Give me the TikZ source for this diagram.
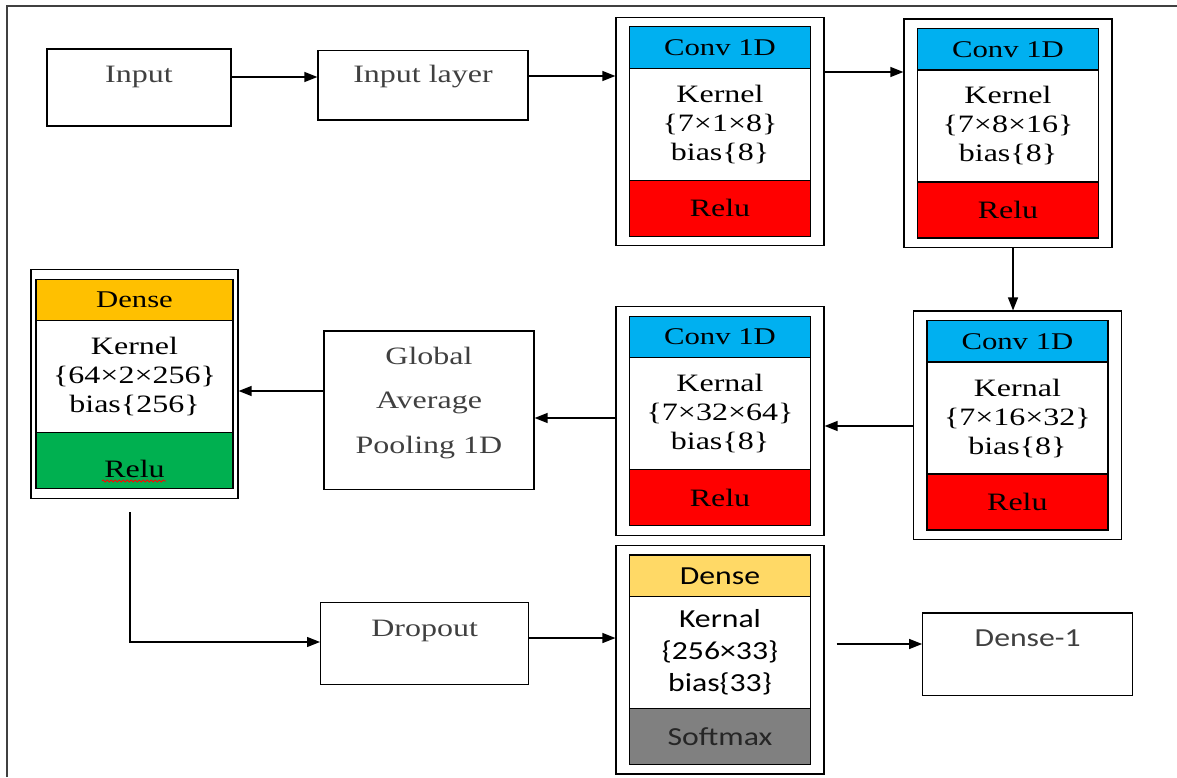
\documentclass[tikz,border=0pt]{standalone}
\usepackage{fontspec}
\setmainfont{Liberation Serif}[FakeStretch=1.28]
\newfontfamily\calibri{Carlito}[FakeStretch=1.22]
\usepackage{tikz}
\usetikzlibrary{arrows.meta,positioning,fit,decorations.pathmorphing}

\definecolor{convblue}{HTML}{00B0F0}
\definecolor{relured}{HTML}{FF0000}
\definecolor{denseorange}{HTML}{FFC000}
\definecolor{densegreen}{HTML}{00B050}
\definecolor{denseyellow}{HTML}{FFD966}
\definecolor{softgray}{HTML}{808080}
\definecolor{txtgray}{HTML}{404040}

\begin{document}
\begin{tikzpicture}[
  x=1pt, y=-1pt,
  line width=1.2pt,
  font=\fontsize{25}{29}\selectfont,
  plainbox/.style={draw, inner sep=0pt, text=txtgray},
  layerhead/.style={draw, outer sep=0pt, inner sep=0pt, minimum width=181pt, minimum height=41.5pt, font=\fontsize{24}{28}\selectfont},
  layerbody/.style={draw, outer sep=0pt, inner sep=0pt, minimum width=181pt, minimum height=112pt, align=center},
  layeract/.style={draw, outer sep=0pt, inner sep=0pt, minimum width=181pt, minimum height=56pt},
  layerframe/.style={draw, inner xsep=13.5pt, inner ysep=9.5pt},
  arr/.style={-{Triangle[length=13pt,width=10pt]}, line width=1.3pt}
]
  \useasboundingbox (0,0) rectangle (1177,777);
  \draw[line width=1.3pt, txtgray] (7,777) -- (7,6) -- (1177,6);

  % input row
  \node[plainbox, minimum width=184pt, text height=33pt, text depth=44pt] (in) at (139,87.5) {Input};
  \node[plainbox, minimum width=210pt, text height=31.6pt, text depth=37.7pt] (inl) at (423,85.3) {Input layer};

  % conv blocks, top row
  \node[layerhead, fill=convblue] (c1h) at (720,47.5) {Conv 1D};
  \node[layerbody, below=0pt of c1h] (c1b) {Kernel\\\{7×1×8\}\\bias\{8\}};
  \node[layeract, fill=relured, below=0pt of c1b] (c1a) {Relu};
  \node[layerframe, fit=(c1h)(c1a)] (c1) {};

  \node[layerhead, fill=convblue] (c2h) at (1008,49.2) {Conv 1D};
  \node[layerbody, below=0pt of c2h] (c2b) {Kernel\\\{7×8×16\}\\bias\{8\}};
  \node[layeract, fill=relured, below=0pt of c2b] (c2a) {Relu};
  \node[layerframe, fit=(c2h)(c2a)] (c2) {};

  % conv blocks, middle row
  \node[layerhead, fill=convblue] (c3h) at (1017.4,341.3) {Conv 1D};
  \node[layerbody, below=0pt of c3h] (c3b) {Kernal\\\{7×16×32\}\\bias\{8\}};
  \node[layeract, fill=relured, below=0pt of c3b] (c3a) {Relu};
  \node[layerframe, fit=(c3h)(c3a)] (c3) {};

  \node[layerhead, fill=convblue] (c4h) at (720,337) {Conv 1D};
  \node[layerbody, below=0pt of c4h] (c4b) {Kernal\\\{7×32×64\}\\bias\{8\}};
  \node[layeract, fill=relured, below=0pt of c4b] (c4a) {Relu};
  \node[layerframe, fit=(c4h)(c4a)] (c4) {};

  \node[plainbox, minimum width=210pt, align=center, text height=122.3pt, text depth=36.4pt,
        font=\fontsize{25}{44.5}\selectfont] (gap) at (429,410.3) {Global\\Average\\Pooling 1D};

  % first dense block
  \node[layerhead, fill=denseorange, minimum width=197pt] (d1h) at (134.5,300) {Dense};
  \node[layerbody, minimum width=197pt, below=0pt of d1h] (d1b) {Kernel\\\{64×2×256\}\\bias\{256\}};
  \node[layeract, fill=densegreen, minimum width=197pt, text height=33pt, text depth=0pt, below=0pt of d1b] (d1a) {Relu};
  \node[layerframe, inner xsep=5pt, fit=(d1h)(d1a)] (d1) {};
  \draw[red, line width=0.8pt, decorate, decoration={snake, amplitude=1pt, segment length=4pt}] (102,481) -- (166,481);

  % bottom row
  \node[plainbox, minimum width=208pt, text height=33.7pt, text depth=48.3pt] (drop) at (424.6,643.3) {Dropout};

  \node[layerhead, fill=denseyellow, font=\calibri\fontsize{26}{30}\selectfont] (d2h) at (720,575.8) {Dense};
  \node[layerbody, font=\calibri\fontsize{26}{32}\selectfont, below=0pt of d2h] (d2b) {Kernal\\\{256×33\}\\bias\{33\}};
  \node[layeract, fill=softgray, font=\calibri\fontsize{26}{30}\selectfont, text=black!85, below=0pt of d2b] (d2a) {Softmax};
  \node[layerframe, fit=(d2h)(d2a)] (d2) {};

  \node[plainbox, minimum width=210pt, text height=33.7pt, text depth=49pt,
        font=\calibri\fontsize{26}{30}\selectfont] (dns) at (1027.7,654.3) {Dense-1};

  % connectors
  \draw[arr] (in.east |- 0,77) -- (inl.west |- 0,77);
  \draw[arr] (inl.east |- 0,76) -- (c1.west |- 0,76);
  \draw[arr] (c1.east |- 0,72) -- (c2.west |- 0,72);
  \draw[arr] (c2.south -| 1013,0) -- (c3.north -| 1013,0);
  \draw[arr] (c3.west |- 0,426) -- (c4.east |- 0,426);
  \draw[arr] (c4.west |- 0,418) -- (gap.east |- 0,418);
  \draw[arr] (gap.west |- 0,391) -- (d1.east |- 0,391);
  \coordinate (d1out) at (130,512);
  \draw[arr] (d1out) |- (drop.west |- 0,642);
  \draw[arr] (drop.east |- 0,638) -- (d2.west |- 0,638);
  \draw[arr] ([xshift=12pt]d2.east |- 0,644) -- (dns.west |- 0,644);
\end{tikzpicture}
\end{document}
